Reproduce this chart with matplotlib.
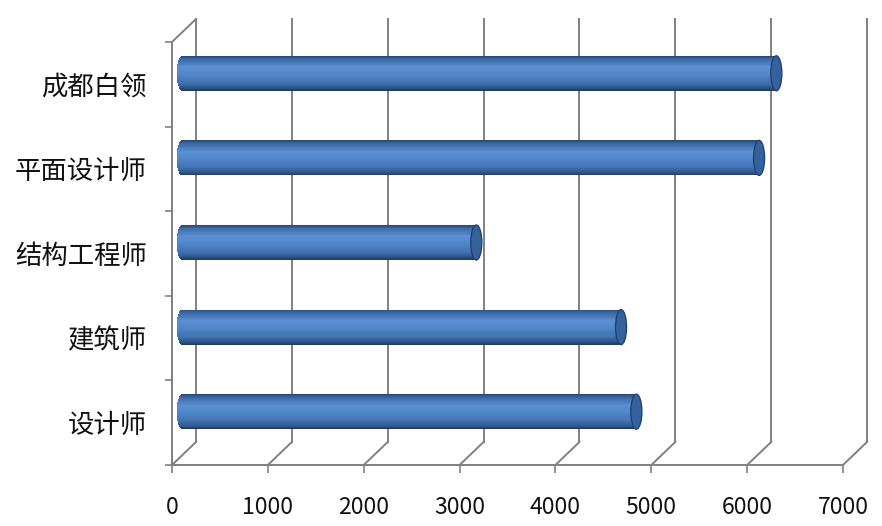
import matplotlib
matplotlib.use("Agg")
import matplotlib.pyplot as plt
from matplotlib.patches import Ellipse
from matplotlib.colors import LinearSegmentedColormap
import numpy as np

plt.rcParams['font.family'] = ['Noto Sans CJK SC', 'DejaVu Sans']

# ---- data (bottom to top) ----
categories = ["设计师", "建筑师", "结构工程师", "平面设计师", "成都白领"]
values = [4740, 4580, 3070, 6020, 6200]
xticks = [0, 1000, 2000, 3000, 4000, 5000, 6000, 7000]
xticklabels = ["0", "1000", "2000", "3000", "4000", "5000", "6000", "7000"]

W, H, DPI = 882, 526, 100
fig = plt.figure(figsize=(W / DPI, H / DPI), dpi=DPI)
fig.patch.set_facecolor("white")

# front plane of the pseudo-3D box (pixels)
x0_px, x1_px = 172, 843
y_bot_px, y_top_px = 465, 42
ax = fig.add_axes([x0_px / W, (H - y_bot_px) / H,
                   (x1_px - x0_px) / W, (y_bot_px - y_top_px) / H])
ax.set_xlim(0, 7000)
ax.set_ylim(-0.5, len(categories) - 0.5)
ax.set_facecolor("white")
for s in ax.spines.values():
    s.set_visible(False)

px_x = 7000 / (x1_px - x0_px)          # data units per pixel (x)
px_y = len(categories) / (y_bot_px - y_top_px)  # data units per pixel (y)

# depth offsets
DX, DY = 24 * px_x, 23 * px_y          # back wall offset
BX, BY = 10 * px_x, 11 * px_y          # bar (mid depth) offset

grid_c = "#808080"
lw = 1.4
ylo, yhi = -0.5, len(categories) - 0.5

# back wall gridlines
for t in xticks:
    ax.plot([t + DX, t + DX], [ylo + DY, yhi + DY], color=grid_c, lw=lw,
            clip_on=False, zorder=1)
    # floor diagonals
    ax.plot([t, t + DX], [ylo, ylo + DY], color=grid_c, lw=lw,
            clip_on=False, zorder=1)
# front floor edge
ax.plot([0, 7000], [ylo, ylo], color=grid_c, lw=lw, clip_on=False, zorder=1)
# left side wall edges
ax.plot([0, 0], [ylo, yhi], color=grid_c, lw=lw, clip_on=False, zorder=1)
ax.plot([0, DX], [yhi, yhi + DY], color=grid_c, lw=lw, clip_on=False, zorder=1)

# ---- cylinders ----
bar_h = 35 * px_y
r = 5.5 * px_x  # radius of end cap (x, data units)
cmap = LinearSegmentedColormap.from_list(
    "cyl",
    [(0.0, "#27476f"), (0.08, "#3a67a3"), (0.32, "#5a8fd2"),
     (0.5, "#5289cc"), (0.75, "#4474b4"), (0.9, "#315b8f"), (1.0, "#1e3859")])
n_strips = 40
ys = np.arange(len(categories))
for yi, v in zip(ys, values):
    yc = yi + BY
    for k in range(n_strips):
        f0 = k / n_strips
        f1 = (k + 1) / n_strips
        fm = 0.5 * (f0 + f1)
        t = 2 * fm - 1  # -1 (top) .. 1 (bottom)
        ext = r * np.sqrt(max(0.0, 1 - t * t))
        ytop = yc + bar_h / 2 - f0 * bar_h
        ax.barh(ytop - (f1 - f0) * bar_h / 2, v + ext, height=(f1 - f0) * bar_h * 1.02,
                left=BX - ext, color=cmap(fm), linewidth=0, zorder=3)
    cap = Ellipse((v + BX, yc), width=2 * r, height=bar_h,
                  facecolor="#35629f", edgecolor="#23426a", lw=1.0, zorder=4)
    ax.add_patch(cap)

# ---- ticks & labels ----
ax.set_yticks(ys)
ax.set_yticklabels(categories, fontsize=19, color="#111111")
ax.set_yticks(np.arange(len(categories) + 1) - 0.5, minor=True)
ax.tick_params(axis="y", which="major", length=0, pad=18)
ax.tick_params(axis="y", which="minor", length=5, width=1.2, color=grid_c,
               direction="out")
ax.set_xticks(xticks)
ax.set_xticklabels(xticklabels, fontsize=16.5, color="#111111")
ax.tick_params(axis="x", which="major", length=6, width=1.2, color=grid_c,
               direction="out", pad=16)

fig.savefig("out.png", dpi=DPI, facecolor="white")
